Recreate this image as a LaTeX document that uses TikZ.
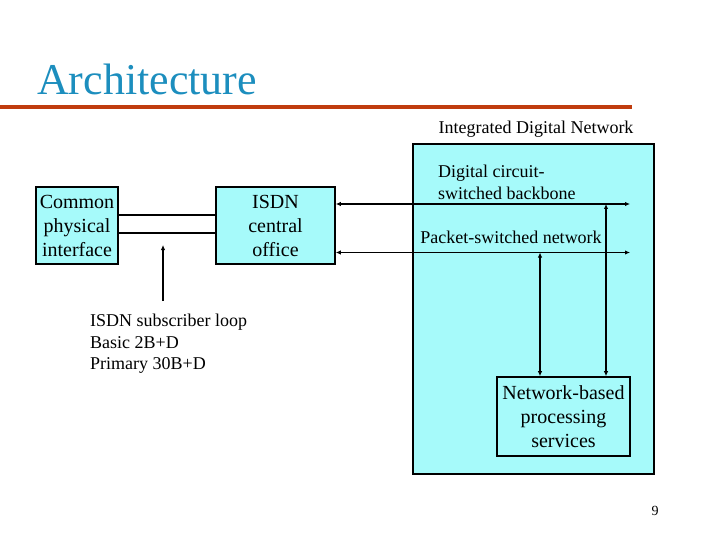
\documentclass[tikz,border=0pt]{standalone}
\usepackage{fontspec}
\setmainfont{Liberation Serif}
\usetikzlibrary{arrows.meta}
\definecolor{titleblue}{RGB}{28,142,190}
\definecolor{rule}{RGB}{192,60,14}
\definecolor{boxcyan}{RGB}{166,250,250}
\tikzset{
  box/.style={draw=black, line width=1.6pt, fill=boxcyan, inner sep=0pt, align=center,
              text=black, font=\fontsize{20}{24}\selectfont},
  lbl/.style={inner sep=0pt, text=black, font=\fontsize{18}{21.5}\selectfont},
  conn/.style={line width=1.6pt, arrows={-{Latex[length=5pt,width=4.5pt]}}},
  dconn/.style={line width=1.6pt, arrows={{Latex[length=5pt,width=4.5pt]}-{Latex[length=5pt,width=4.5pt]}}},
  wire/.style={line width=1.6pt}
}
\begin{document}
\begin{tikzpicture}[x=1pt,y=-1pt]
\useasboundingbox (0,0) rectangle (720,540);
\fill[white] (0,0) rectangle (720,540);
% boxes
\node[box, minimum width=241pt, minimum height=330pt] (idn) at (533.5,309) {};
\node[box, minimum width=82pt, minimum height=77pt] (cpi) at (77,225.5) {Common\\physical\\interface};
\node[box, minimum width=119pt, minimum height=77pt] (co) at (275.5,225.5) {ISDN\\central\\office};
\node[box, minimum width=133pt, minimum height=79pt] (nb) at (563.5,416.5) {Network-based\\processing\\services};
% title and rule
\fill[rule] (0,105) rectangle (632,109.5);
\node[anchor=base west, inner sep=0pt, text=titleblue, font=\fontsize{44}{48}\selectfont] (title) at (37,95) {Architecture};
% labels
\node[lbl, anchor=base] (idnlbl) at (536,134) {Integrated Digital Network};
\node[lbl, anchor=west, align=left] (cb) at (438,182.5) {Digital circuit-\\switched backbone};
\node[lbl, anchor=center] (ps) at (511,237) {Packet-switched network};
\node[lbl, anchor=north west, align=left] (loop) at (90,314) {ISDN subscriber loop\\Basic 2B+D\\Primary 30B+D};
\node[inner sep=0pt, text=black, font=\fontsize{14}{16}\selectfont, anchor=center] (pg) at (655,511) {9};
% coordinates
\coordinate (cbR) at (630,204);
\coordinate (psR) at (630,252.5);
\coordinate (cbT) at (606,204);
\coordinate (psT) at (540,252.5);
\coordinate (loopS) at (163,301);
\coordinate (loopT) at (163,245);
% connectors
\draw[wire] (cpi.east |- 0,215) -- (co.west |- 0,215);
\draw[wire] (cpi.east |- 0,233) -- (co.west |- 0,233);
\draw[dconn] (co.east |- cbR) -- (cbR);
\draw[dconn] (co.east |- psR) -- (psR);
\draw[dconn] (cbT) -- (cbT |- nb.north);
\draw[dconn] (psT) -- (psT |- nb.north);
\draw[conn] (loopS) -- (loopT);
\end{tikzpicture}
\end{document}
